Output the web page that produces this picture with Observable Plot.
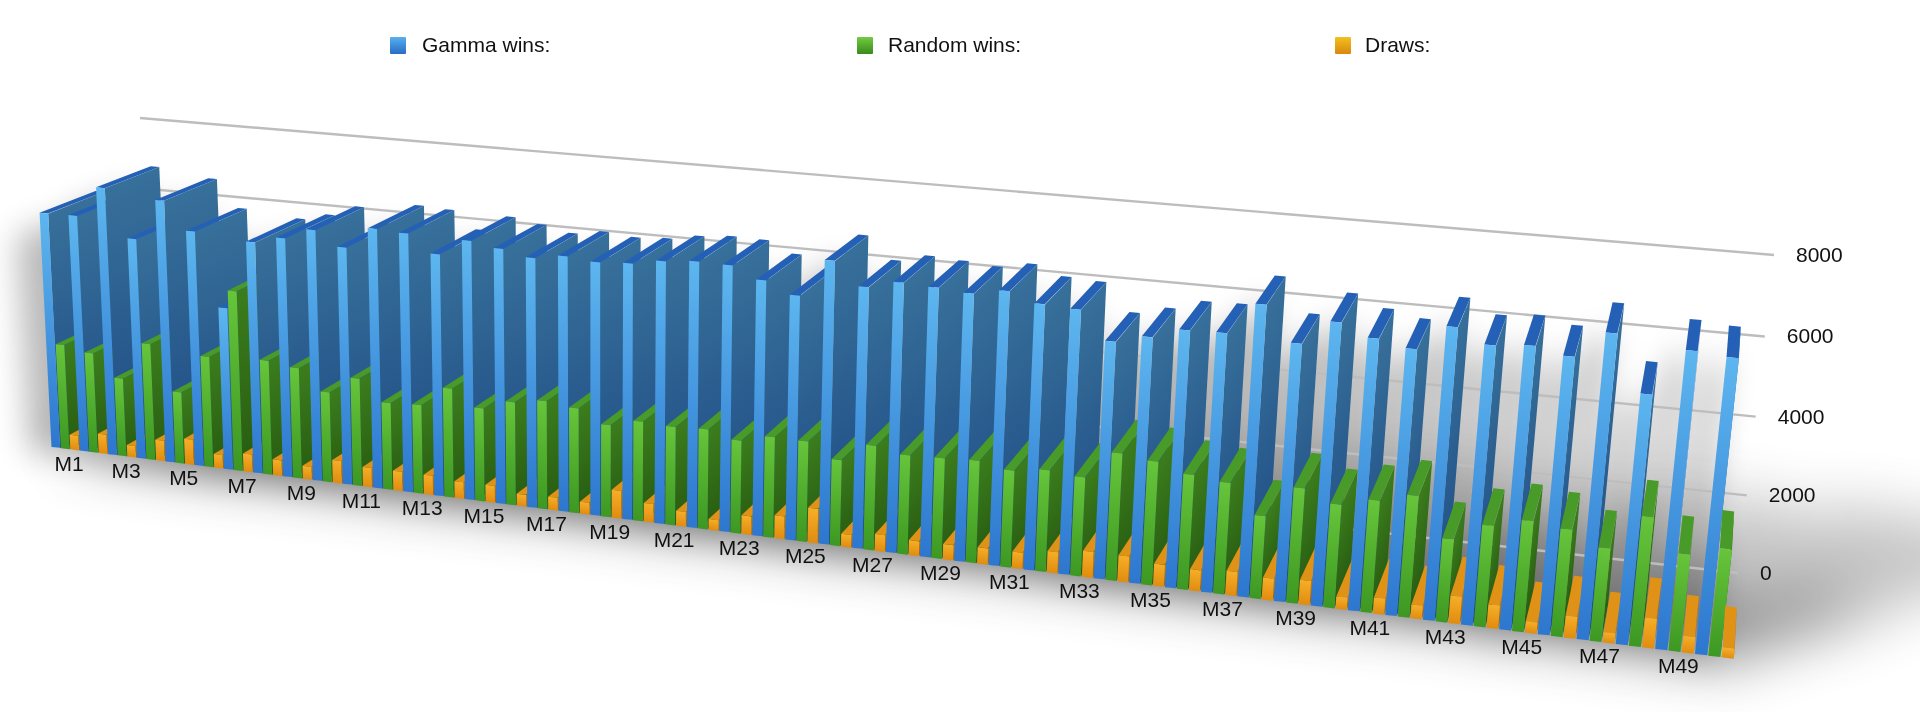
<!DOCTYPE html>
<html>
<head>
<meta charset="utf-8">
<script src="https://cdn.jsdelivr.net/npm/d3@7"></script>
<script src="https://cdn.jsdelivr.net/npm/@observablehq/plot@0.6"></script>
<style>
  html, body { margin: 0; padding: 0; background: #ffffff; }
  #wrap { position: relative; width: 1920px; height: 712px; overflow: hidden;
          font-family: "Liberation Sans", Arial, Helvetica, sans-serif; }
  #chart { position: absolute; left: 0; top: 0; }
  #legend { position: absolute; left: 0; top: 0; width: 1920px; height: 80px; }
  .sw { position: absolute; top: 37px; width: 16px; height: 17px; border-radius: 1px; }
  .lt { position: absolute; top: 33px; font-size: 21px; line-height: 24px; color: #111; white-space: nowrap; }
</style>
</head>
<body>
<div id="wrap"><div id="chart"></div><div id="legend"></div></div>
<script>
// ---------------- data ----------------
const categories = Array.from({length: 50}, (_, i) => "M" + (i + 1));
const gammaWins = [6610, 6625, 7462, 6146, 7272, 6517, 4503, 6383, 6573, 6874,
                   6489, 7067, 7028, 6557, 6993, 6865, 6707, 6834, 6758, 6811,
                   6956, 7032, 7016, 6719, 6416, 7386, 6805, 7003, 6962, 6896,
                   7046, 6806, 6761, 6051, 6254, 6515, 6537, 7325, 6460, 7069,
                   6768, 6605, 7225, 6880, 6960, 6797, 7438, 6086, 7206, 7136];
const randomWins = [2969, 2824, 2205, 3270, 2013, 3100, 4997, 3178, 3068, 2497,
                    2972, 2395, 2438, 2982, 2544, 2810, 2939, 2841, 2489, 2683,
                    2644, 2678, 2482, 2674, 2664, 2279, 2752, 2605, 2633, 2672,
                    2523, 2636, 2560, 3275, 3173, 2941, 2845, 2113, 2920, 2619,
                    2826, 3053, 2083, 2529, 2758, 2655, 2307, 3174, 2384, 2625];
const draws = [421, 551, 333, 584, 715, 383, 500, 439, 359, 628,
               539, 538, 534, 460, 463, 325, 354, 324, 753, 507,
               401, 290, 502, 607, 920, 336, 442, 392, 404, 432,
               431, 558, 679, 673, 572, 545, 618, 562, 620, 312,
               406, 343, 691, 591, 281, 548, 254, 740, 410, 239];
const seriesNames = ["Gamma wins:", "Random wins:", "Draws:"];
const yTicks = [0, 2000, 4000, 6000, 8000];
const xLabelCats = categories.filter((d, i) => i % 2 === 0);

// ---------------- styles ----------------
const frontColors = [["#5db6ef", "#2d77cf"], ["#66c53a", "#3c9822"], ["#f6ae27", "#e08c0f"]];
const sideColors  = [["#37709a", "#1f4c85"], ["#3b7d1d", "#285c11"], ["#c07a11", "#a3620a"]];
const topColors   = ["#2461b6", "#489a29", "#e09216"];
const legendGrad  = ["linear-gradient(#56b0ee,#2a6cc4)", "linear-gradient(#72cb42,#3a8a1c)", "linear-gradient(#f4c020,#d8880c)"];
const legendX     = [[390, 422], [857, 888], [1335, 1365]];

// ---------------- flat chart with Plot ----------------
const rows = [];
categories.forEach((c, i) => {
  rows.push({cat: c, s: 0, key: c + "|0", value: gammaWins[i]});
  rows.push({cat: c, s: 1, key: c + "|1", value: randomWins[i]});
  rows.push({cat: c, s: 2, key: c + "|2", value: draws[i]});
});
const keys = rows.map(d => d.key);
const FW = 1500, FH = 1000;

const svg = Plot.plot({
  width: FW, height: FH, margin: 0,
  style: {fontFamily: "Liberation Sans, Arial, Helvetica, sans-serif", background: "transparent"},
  x: {type: "band", domain: keys, paddingInner: 0.08, paddingOuter: 0, axis: null},
  y: {domain: [0, 10000], range: [FH, 0], axis: null},
  marks: [
    Plot.ruleY(yTicks, {stroke: "#bdbdbd", strokeWidth: 2.4}),
    Plot.barY(rows, {x: "key", y: "value", fill: d => frontColors[d.s][0]}),
    Plot.text(yTicks, {y: d => d, text: d => String(d), textAnchor: "start", fontSize: 21, fill: "#111"}),
    Plot.text(xLabelCats, {x: d => d + "|1", y: 0, text: d => d, fontSize: 21, fill: "#111"})
  ]
});

// ---------------- camera (view transform) ----------------
function solveHomography(src, dst) {
  const A = [], b = [];
  for (let k = 0; k < 4; k++) {
    const [x, y] = src[k], [X, Y] = dst[k];
    A.push([x, y, 1, 0, 0, 0, -x * X, -y * X]); b.push(X);
    A.push([0, 0, 0, x, y, 1, -x * Y, -y * Y]); b.push(Y);
  }
  const n = 8;
  for (let i = 0; i < n; i++) {
    let p = i;
    for (let r = i + 1; r < n; r++) if (Math.abs(A[r][i]) > Math.abs(A[p][i])) p = r;
    [A[i], A[p]] = [A[p], A[i]]; [b[i], b[p]] = [b[p], b[i]];
    for (let r = i + 1; r < n; r++) {
      const m = A[r][i] / A[i][i];
      for (let c = i; c < n; c++) A[r][c] -= m * A[i][c];
      b[r] -= m * b[i];
    }
  }
  const h = new Array(n);
  for (let i = n - 1; i >= 0; i--) {
    let s = b[i];
    for (let c = i + 1; c < n; c++) s -= A[i][c] * h[c];
    h[i] = s / A[i][i];
  }
  return h;
}
// front plane of the bars
const H = solveHomography(
  [[0, FH], [FW, FH], [0, 200], [FW, 200]],
  [[51.5, 447], [1735, 659], [37, 162.2], [1772, 323.8]]);
// back wall carrying the grid
const HW = solveHomography(
  [[0, 200], [FW, 200], [FW, FH], [0, FH]],
  [[140, 118], [1774, 255], [1738, 573], [154, 394]]);
const VP = [1789, -469];           // vanishing point of the depth direction
const qz0 = H[6] * 5 + H[7] * 339 + 1;
const depthFrac = 0.032;
const L = depthFrac * qz0 / (1 - depthFrac);

function proj(u, v, w) {
  const qx = H[0] * u + H[1] * v + H[2] + w * L * VP[0];
  const qy = H[3] * u + H[4] * v + H[5] + w * L * VP[1];
  const qz = H[6] * u + H[7] * v + 1 + w * L;
  return [qx / qz, qy / qz];
}
function wall(u, v) {
  const qz = HW[6] * u + HW[7] * v + 1;
  return [(HW[0] * u + HW[1] * v + HW[2]) / qz, (HW[3] * u + HW[4] * v + HW[5]) / qz];
}
function affine(x0, y0, x1, y1, A, B, C) {
  const a = (B[0] - A[0]) / (x1 - x0), b = (B[1] - A[1]) / (x1 - x0);
  const c = (C[0] - A[0]) / (y1 - y0), d = (C[1] - A[1]) / (y1 - y0);
  const e = A[0] - a * x0 - c * y0, f = A[1] - b * x0 - d * y0;
  return `matrix(${a},${b},${c},${d},${e},${f})`;
}

// ---------------- restructure the Plot svg ----------------
const ns = "http://www.w3.org/2000/svg";
const rects = Array.from(svg.querySelectorAll('g[aria-label="bar"] rect'));
const lines = Array.from(svg.querySelectorAll('g[aria-label="rule"] line'));
const textGroups = Array.from(svg.querySelectorAll('g[aria-label="text"]'));
const yTextG = textGroups[0], xTextG = textGroups[1];

Array.from(svg.childNodes).forEach(n => {
  if (n.nodeName.toLowerCase() !== "style") svg.removeChild(n);
});
svg.setAttribute("width", 1920);
svg.setAttribute("height", 712);
svg.setAttribute("viewBox", "0 0 1920 712");

const defs = document.createElementNS(ns, "defs");
function addGrad(id, c0, c1) {
  const g = document.createElementNS(ns, "linearGradient");
  g.setAttribute("id", id); g.setAttribute("x1", 0); g.setAttribute("y1", 0);
  g.setAttribute("x2", 0); g.setAttribute("y2", 1);
  [[0, c0], [1, c1]].forEach(([o, c]) => {
    const st = document.createElementNS(ns, "stop");
    st.setAttribute("offset", o); st.setAttribute("stop-color", c); g.appendChild(st);
  });
  defs.appendChild(g);
}
for (let s = 0; s < 3; s++) {
  addGrad("front" + s, frontColors[s][0], frontColors[s][1]);
  addGrad("side" + s, sideColors[s][0], sideColors[s][1]);
}
function addBlur(id, sd) {
  const filt = document.createElementNS(ns, "filter");
  filt.setAttribute("id", id); filt.setAttribute("x", "-50%"); filt.setAttribute("y", "-50%");
  filt.setAttribute("width", "200%"); filt.setAttribute("height", "200%");
  const blur = document.createElementNS(ns, "feGaussianBlur");
  blur.setAttribute("stdDeviation", sd); filt.appendChild(blur); defs.appendChild(filt);
}
addBlur("soft", 30);
addBlur("halo", 16);
svg.appendChild(defs);

// floor shadow cast to the back right
const shadowG = document.createElementNS(ns, "g");
shadowG.setAttribute("filter", "url(#soft)");
shadowG.setAttribute("opacity", 0.78);
const alpha = 0.48, beta = 0.0062;
// soft halo around the bar block
const haloG = document.createElementNS(ns, "g");
haloG.setAttribute("filter", "url(#halo)");
haloG.setAttribute("opacity", 0.28);
rects.forEach(r => {
  const u0 = +r.getAttribute("x"), w = +r.getAttribute("width");
  const vt = +r.getAttribute("y"), h = +r.getAttribute("height");
  if (!(h > 0)) return;
  const u1 = u0 + w, vb = vt + h;
  const sh = r.cloneNode();
  sh.setAttribute("fill", "#000");
  sh.setAttribute("transform", affine(u0, vt, u1 + 5, vb,
    proj(u0 + alpha * h, vb, beta * h), proj(u1 + 5 + alpha * h, vb, beta * h), proj(u0, vb, 0)));
  shadowG.appendChild(sh);
  const A = proj(u0, vt, 0), B = proj(u1 + 6, vt, 1), C = proj(u0, vb, 0);
  const ha = r.cloneNode();
  ha.setAttribute("fill", "#000");
  ha.setAttribute("transform", affine(u0, vt, u1, vb,
    [A[0] - 22, A[1] + 22], [B[0] - 22, B[1] + 22], [C[0] - 22, C[1] + 6]));
  haloG.appendChild(ha);
});
svg.appendChild(haloG);
svg.appendChild(shadowG);

// grid on the back wall
const gridG = document.createElementNS(ns, "g");
lines.forEach(l => {
  const x1 = +l.getAttribute("x1"), x2 = +l.getAttribute("x2"), y = +l.getAttribute("y1");
  const P1 = wall(x1, y), P2 = wall(x2, y);
  const c = l.cloneNode();
  c.setAttribute("stroke", "#bdbdbd"); c.setAttribute("stroke-width", 2.4);
  c.setAttribute("vector-effect", "non-scaling-stroke");
  c.setAttribute("transform", affine(x1, y, x2, y + 1, P1, P2, [P1[0], P1[1] + 1]));
  gridG.appendChild(c);
});
svg.appendChild(gridG);

// 3D bars: painter's order, left to right
const barG = document.createElementNS(ns, "g");
rects.forEach((r, idx) => {
  const s = rows[idx].s;
  const u0 = +r.getAttribute("x"), w = +r.getAttribute("width");
  const vt = +r.getAttribute("y"), h = +r.getAttribute("height");
  if (!(h > 0)) return;
  const u1 = u0 + w, vb = vt + h;
  const side = r.cloneNode();
  side.setAttribute("fill", `url(#side${s})`);
  side.setAttribute("transform", affine(u0, vt, u1, vb, proj(u1, vt, 0), proj(u1, vt, 1), proj(u1, vb, 0)));
  const top = r.cloneNode();
  top.setAttribute("fill", topColors[s]);
  top.setAttribute("transform", affine(u0, vt, u1, vb, proj(u0, vt, 1), proj(u1, vt, 1), proj(u0, vt, 0)));
  const front = r.cloneNode();
  front.setAttribute("fill", `url(#front${s})`);
  front.setAttribute("transform", affine(u0, vt, u1, vb, proj(u0, vt, 0), proj(u1, vt, 0), proj(u0, vb, 0)));
  barG.appendChild(side); barG.appendChild(top); barG.appendChild(front);
});
svg.appendChild(barG);

// tick labels placed at the projected anchor points
yTextG.removeAttribute("transform");
Array.from(yTextG.querySelectorAll("text")).forEach((t, i) => {
  const v = +lines[i].getAttribute("y1");
  const P = wall(FW, v);
  t.removeAttribute("x"); t.removeAttribute("y");
  t.setAttribute("transform", `translate(${P[0] + 22},${P[1] + 7})`);
});
svg.appendChild(yTextG);

xTextG.removeAttribute("transform");
Array.from(xTextG.querySelectorAll("text")).forEach((t, i) => {
  const r = rects[(i * 2) * 3 + 1];
  const uc = +r.getAttribute("x") + (+r.getAttribute("width")) / 2;
  const P = proj(uc, FH, 0);
  t.removeAttribute("x"); t.removeAttribute("y");
  t.setAttribute("transform", `translate(${P[0] + 4},${P[1] + 22})`);
});
svg.appendChild(xTextG);

document.getElementById("chart").appendChild(svg);

// ---------------- legend ----------------
const legend = document.getElementById("legend");
seriesNames.forEach((name, i) => {
  const sw = document.createElement("div");
  sw.className = "sw"; sw.style.left = legendX[i][0] + "px"; sw.style.background = legendGrad[i];
  const lt = document.createElement("div");
  lt.className = "lt"; lt.style.left = legendX[i][1] + "px"; lt.textContent = name;
  legend.appendChild(sw); legend.appendChild(lt);
});
</script>
</body>
</html>
